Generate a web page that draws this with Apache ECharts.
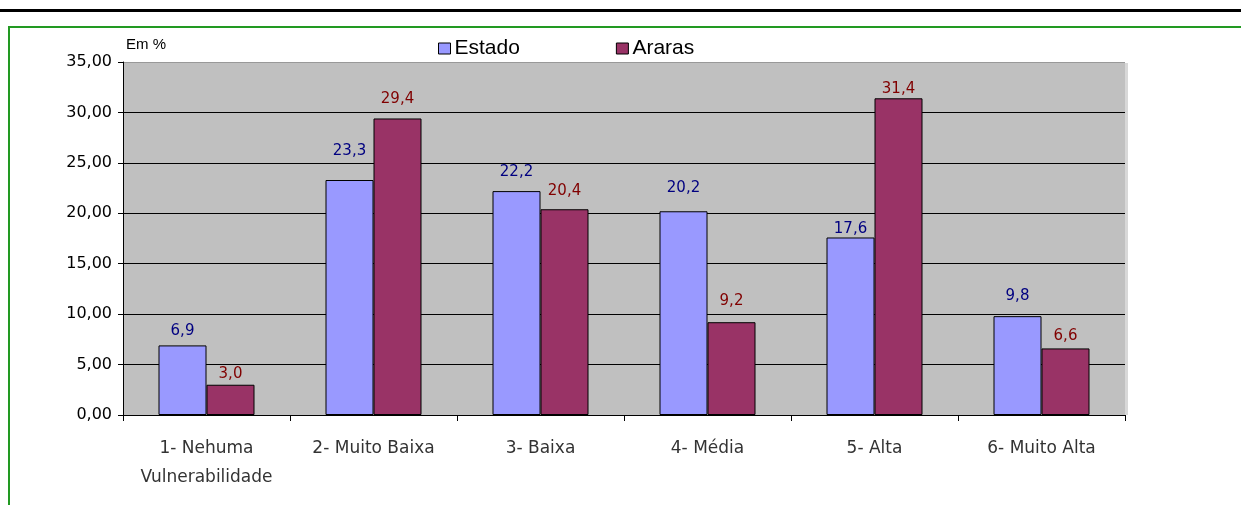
<!DOCTYPE html>
<html><head><meta charset="utf-8">
<script src="https://cdn.jsdelivr.net/npm/echarts@6/dist/echarts.min.js"></script>
<style>html,body{margin:0;padding:0;background:#fff}#c{width:1241px;height:505px}</style>
</head><body><div id="c"></div>
<script>
const categories = ['1- Nehuma\nVulnerabilidade', '2- Muito Baixa', '3- Baixa', '4- Média', '5- Alta', '6- Muito Alta'];
const estado = [6.9, 23.3, 22.2, 20.2, 17.6, 9.8];
const araras = [3.0, 29.4, 20.4, 9.2, 31.4, 6.6];
const seriesNames = ['Estado', 'Araras'];
// label gaps above bars (style only)
const estadoLabelGap = [7, 21, 11, 16, 1, 13];
const ararasLabelGap = [3, 12, 11, 14, 2, 5];

const fmt1 = v => v.toFixed(1).replace('.', ',');
const fmt2 = v => v.toFixed(2).replace('.', ',');
const wide = 'DejaVu Sans, sans-serif';
const arial = 'Liberation Sans, Arial, sans-serif';

function withLabels(values, gaps) {
  return values.map((v, i) => ({ value: v, label: { distance: gaps[i] } }));
}

const chart = echarts.init(document.getElementById('c'));
chart.setOption({
  animation: false,
  textStyle: { fontFamily: wide },
  graphic: [
    { type: 'rect', shape: { x: 0, y: 9, width: 1241, height: 3 }, style: { fill: '#000' }, silent: true },
    { type: 'rect', shape: { x: 9, y: 27, width: 1260, height: 520 }, style: { fill: 'none', stroke: '#229922', lineWidth: 2 }, silent: true },
    { type: 'rect', shape: { x: 1125, y: 63, width: 3, height: 352 }, style: { fill: '#d8d8d8' }, silent: true },
    { type: 'text', left: 126, top: 37, style: { text: 'Em %', fontSize: 15, fill: '#000', fontFamily: arial } }
  ],
  legend: {
    top: 33, left: 433, itemGap: 96,
    itemWidth: 12, itemHeight: 11,
    icon: 'rect',
    itemStyle: { borderColor: '#000', borderWidth: 1 },
    textStyle: { fontSize: 21, color: '#000', fontFamily: arial, padding: [0, 0, 0, -1] },
    data: seriesNames
  },
  grid: { left: 123, right: 116, top: 62, bottom: 90, containLabel: false, show: true, backgroundColor: '#c0c0c0', borderWidth: 0 },
  xAxis: {
    type: 'category', data: categories,
    axisLine: { lineStyle: { color: '#000', width: 1 } },
    axisTick: { show: true, interval: 0, alignWithLabel: false, length: 6, lineStyle: { color: '#000' } },
    axisLabel: { interval: 0, fontSize: 17, color: '#333', margin: 19, lineHeight: 29, fontFamily: wide },
    splitLine: { show: false }
  },
  yAxis: {
    type: 'value', min: 0, max: 35, interval: 5,
    axisLine: { show: true, lineStyle: { color: '#000', width: 1 } },
    axisTick: { show: true, length: 5, inside: false, lineStyle: { color: '#000' } },
    axisLabel: { fontSize: 16, color: '#000', margin: 11, formatter: v => fmt2(v), fontFamily: wide },
    splitLine: { show: true, lineStyle: { color: ['#000', '#000', '#000', '#000', '#000', '#000', '#000', '#999'], width: 1 } }
  },
  series: [
    {
      name: seriesNames[0], type: 'bar', data: withLabels(estado, estadoLabelGap), barWidth: 48, barGap: '0%',
      itemStyle: { color: '#9999ff', borderColor: '#000', borderWidth: 1 },
      label: { show: true, position: 'top', color: '#000080', fontSize: 15, fontFamily: wide, formatter: p => fmt1(p.value) }
    },
    {
      name: seriesNames[1], type: 'bar', data: withLabels(araras, ararasLabelGap), barWidth: 48, barGap: '0%',
      itemStyle: { color: '#993366', borderColor: '#000', borderWidth: 1 },
      label: { show: true, position: 'top', color: '#800000', fontSize: 15, fontFamily: wide, formatter: p => fmt1(p.value) }
    }
  ]
});
</script></body></html>
